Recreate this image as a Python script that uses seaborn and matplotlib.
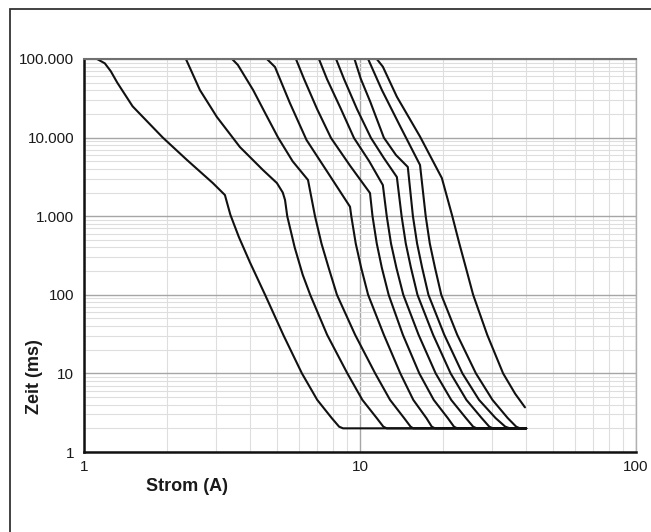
import matplotlib
matplotlib.use("Agg")
import matplotlib.pyplot as plt
import matplotlib.patches as mpatches
from matplotlib.ticker import FixedLocator, NullFormatter, LogLocator
import numpy as np
import pandas as pd
import seaborn as sns

# ---- data: current (A) vs. time (ms) for ten fuse characteristics ----
c1_x = [1.115, 1.19, 1.25, 1.32, 1.5, 1.93, 2.36, 2.93, 3.24, 3.39, 3.64, 3.99, 4.53, 5.28, 6.16, 7.0, 7.9, 8.4, 8.68, 40]
c1_y = [100000, 88000, 70000, 50000, 25000, 10000, 5200, 2640, 1860, 1046, 543, 260, 100, 30.6, 10, 4.6, 2.7, 2.1, 2, 2]

c2_x = [2.34, 2.63, 3.03, 3.67, 4.45, 5.0, 5.25, 5.35, 5.45, 5.8, 6.2, 6.6, 7.6, 9.0, 10.2, 11.5, 12.15, 12.5, 40]
c2_y = [100000, 40300, 18300, 7600, 3870, 2640, 2000, 1610, 1000, 400, 180, 100, 31, 10, 4.6, 2.7, 2.1, 2, 2]

c3_x = [3.44, 3.61, 4.1, 4.55, 5.05, 5.7, 6.48, 6.87, 7.25, 7.7, 8.25, 9.6, 11.35, 12.85, 14.45, 15.25, 15.6, 40]
c3_y = [100000, 84000, 40300, 20000, 10000, 5000, 2890, 1000, 450, 220, 100, 31, 10, 4.6, 2.7, 2.1, 2, 2]

c4_x = [4.60, 4.92, 5.57, 6.4, 7.68, 9.2, 9.3, 9.65, 10.1, 10.7, 12.2, 14.0, 15.6, 17.4, 18.2, 18.7, 40]
c4_y = [100000, 79100, 27600, 9330, 3500, 1320, 1000, 450, 220, 100, 31, 10, 4.6, 2.7, 2.1, 2, 2]

c5_x = [5.86, 6.27, 6.99, 7.85, 9.2, 10.87, 11.1, 11.5, 12.0, 12.7, 14.3, 16.4, 18.5, 20.8, 21.9, 22.5, 40]
c5_y = [100000, 55700, 23100, 9890, 4400, 1970, 1000, 450, 220, 100, 31, 10, 4.6, 2.7, 2.1, 2, 2]

c6_x = [7.10, 7.59, 8.53, 9.51, 10.8, 12.1, 12.5, 12.95, 13.55, 14.35, 16.3, 18.8, 21.4, 24.2, 25.7, 26.5, 40]
c6_y = [100000, 55700, 23100, 9890, 5000, 2490, 1000, 450, 220, 100, 31, 10, 4.6, 2.7, 2.1, 2, 2]

c7_x = [8.19, 8.75, 9.75, 10.96, 12.2, 13.6, 14.15, 14.65, 15.3, 16.15, 18.4, 21.3, 24.3, 27.6, 29.4, 30.3, 40]
c7_y = [100000, 55700, 23100, 9890, 5500, 3150, 1000, 450, 220, 100, 31, 10, 4.6, 2.7, 2.1, 2, 2]

c8_x = [9.55, 10.06, 10.9, 12.2, 13.5, 14.9, 15.55, 16.1, 16.8, 17.7, 20.2, 23.5, 27.0, 31.0, 33.6, 34.9, 40]
c8_y = [100000, 56200, 28400, 9990, 6000, 4230, 1000, 450, 220, 100, 31, 10, 4.6, 2.7, 2.1, 2, 2]

c9_x = [10.7, 12.0, 14.0, 16.5, 17.3, 17.9, 18.7, 19.7, 22.5, 26.3, 30.2, 34.3, 36.8, 38.0, 40]
c9_y = [100000, 40400, 13800, 4480, 1000, 450, 220, 100, 31, 10, 4.6, 2.7, 2.1, 2, 2]

c10_x = [11.5, 12.1, 13.6, 16.5, 19.8, 21.6, 22.9, 24.2, 25.7, 28.9, 33.0, 36.5, 39.6]
c10_y = [100000, 79800, 33100, 10300, 3050, 1000, 450, 220, 100, 31, 10, 5.5, 3.7]

x_ticks = [1, 10, 100]
x_tick_labels = ["1", "10", "100"]
y_ticks = [1, 10, 100, 1000, 10000, 100000]
y_tick_labels = ["1", "10", "100", "1.000", "10.000", "100.000"]
x_title = "Strom (A)"
y_title = "Zeit (ms)"

curves = [(c1_x, c1_y), (c2_x, c2_y), (c3_x, c3_y), (c4_x, c4_y), (c5_x, c5_y),
          (c6_x, c6_y), (c7_x, c7_y), (c8_x, c8_y), (c9_x, c9_y), (c10_x, c10_y)]
frames = []
for i, (xs, ys) in enumerate(curves):
    frames.append(pd.DataFrame({"Strom": xs, "Zeit": ys, "Kurve": f"K{i+1}"}))
df = pd.concat(frames, ignore_index=True)

# ---- styling ----
sns.set_theme(style="white")
plt.rcParams["font.family"] = ["Liberation Sans", "DejaVu Sans"]

fig = plt.figure(figsize=(6.51, 5.32), dpi=100)
ax = fig.add_axes([84 / 651, 1 - 452 / 532, 552 / 651, 393 / 532])

ax.set_xscale("log")
ax.set_yscale("log")
ax.set_xlim(1, 100)
ax.set_ylim(1, 100000)

sns.lineplot(data=df, x="Strom", y="Zeit", hue="Kurve",
             estimator=None, sort=False, palette=["#111111"] * len(curves),
             linewidth=1.5, legend=False, ax=ax)

# grid
ax.xaxis.set_major_locator(FixedLocator(x_ticks))
ax.yaxis.set_major_locator(FixedLocator(y_ticks))
ax.xaxis.set_minor_locator(LogLocator(base=10, subs=np.arange(2, 10)))
ax.yaxis.set_minor_locator(LogLocator(base=10, subs=np.arange(2, 10)))
ax.xaxis.set_minor_formatter(NullFormatter())
ax.yaxis.set_minor_formatter(NullFormatter())
ax.set_xticklabels(x_tick_labels)
ax.set_yticklabels(y_tick_labels)
ax.grid(True, which="major", color="#a6a6a6", linewidth=1.0)
ax.grid(True, which="minor", color="#dedede", linewidth=0.8)
ax.set_axisbelow(True)

ax.tick_params(axis="both", which="major", direction="inout", length=6,
               width=1.0, color="#222222", labelsize=11, labelcolor="#1a1a1a")
ax.tick_params(axis="y", which="major", pad=4)
ax.tick_params(axis="x", which="major", pad=3)
ax.tick_params(axis="both", which="minor", length=0)

for side in ("left", "bottom"):
    ax.spines[side].set_color("#111111")
    ax.spines[side].set_linewidth(1.8)
ax.spines["top"].set_color("#707070")
ax.spines["top"].set_linewidth(1.5)
ax.spines["right"].set_color("#b0b0b0")
ax.spines["right"].set_linewidth(1.0)

ax.set_xlabel(x_title, fontsize=13, fontweight="bold", color="#1a1a1a")
ax.set_ylabel(y_title, fontsize=13, fontweight="bold", color="#1a1a1a")
ax.xaxis.set_label_coords(0.187, -0.066)
ax.yaxis.set_label_coords(-0.074, 0.191)

# outer frame of the figure (open at right and bottom, as in the reference)
frame = mpatches.Rectangle((10 / 651, -0.1), 1.2, 1 - 9 / 532 + 0.1,
                           transform=fig.transFigure, fill=False,
                           edgecolor="#333333", linewidth=1.3)
fig.patches.append(frame)

fig.savefig("out.png", dpi=100)
